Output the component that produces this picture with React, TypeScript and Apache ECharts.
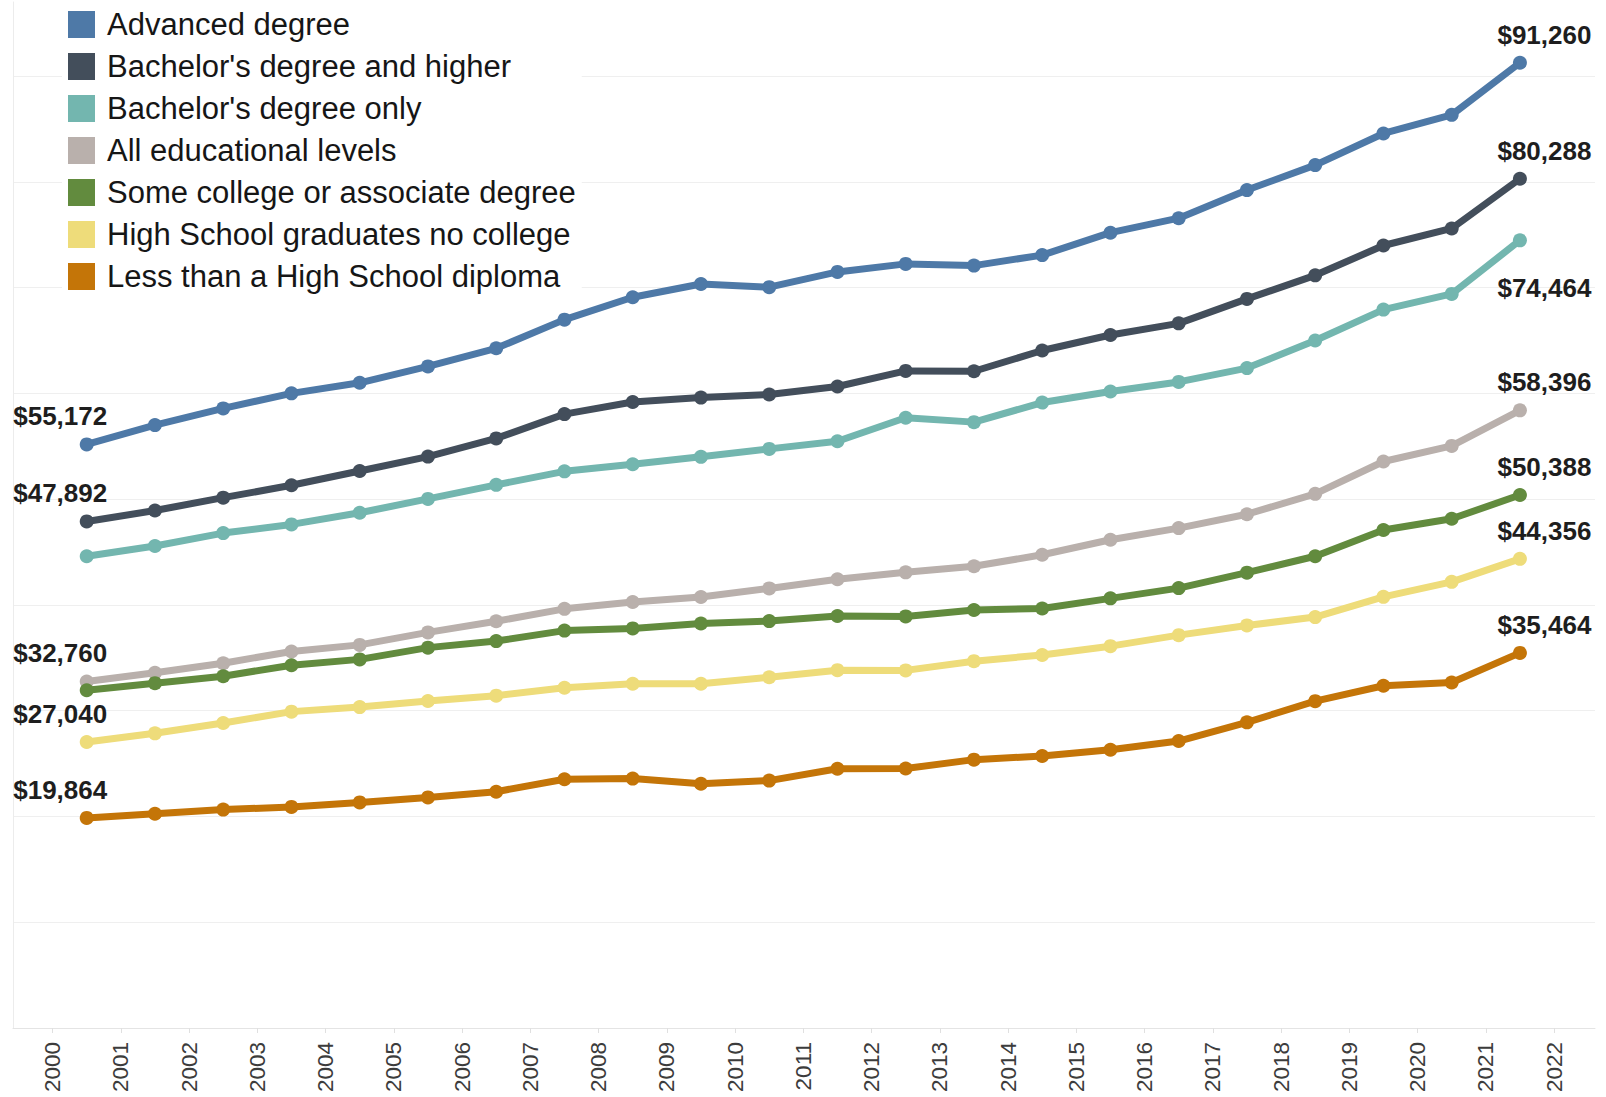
import React, { useEffect, useRef } from "react";
import * as echarts from "echarts";

// Annual median earnings by educational attainment (USD)
const years = [
  2000, 2001, 2002, 2003, 2004, 2005, 2006, 2007, 2008, 2009, 2010,
  2011, 2012, 2013, 2014, 2015, 2016, 2017, 2018, 2019, 2020, 2021,
];
const tickYears = [
  2000, 2001, 2002, 2003, 2004, 2005, 2006, 2007, 2008, 2009, 2010, 2011,
  2012, 2013, 2014, 2015, 2016, 2017, 2018, 2019, 2020, 2021, 2022,
];

const advancedDegree = [
  55172, 57000, 58580, 60000, 61000, 62550, 64260, 66970, 69090, 70340, 70040,
  71480, 72240, 72080, 73070, 75190, 76560, 79220, 81580, 84570, 86330, 91260,
];
const bachelorsAndHigher = [
  47892, 48920, 50140, 51310, 52660, 54020, 55740, 58040, 59180, 59600, 59890,
  60650, 62120, 62090, 64050, 65520, 66620, 68930, 71160, 73980, 75590, 80288,
];
const bachelorsOnly = [
  44600, 45570, 46790, 47610, 48710, 50020, 51350, 52630, 53300, 54000, 54750,
  55470, 57700, 57280, 59130, 60180, 61080, 62390, 65000, 67920, 69400, 74464,
];
const allLevels = [
  32760, 33590, 34490, 35600, 36220, 37400, 38450, 39630, 40280, 40750, 41560,
  42430, 43080, 43650, 44740, 46160, 47260, 48570, 50500, 53560, 55030, 58396,
];
const someCollege = [
  31930, 32600, 33260, 34300, 34850, 35960, 36580, 37570, 37780, 38240, 38470,
  38950, 38910, 39520, 39660, 40620, 41590, 43050, 44600, 47080, 48140, 50388,
];
const highSchool = [
  27040, 27860, 28830, 29910, 30340, 30920, 31420, 32170, 32550, 32550, 33160,
  33830, 33810, 34680, 35270, 36100, 37140, 38060, 38850, 40760, 42180, 44356,
];
const lessThanHighSchool = [
  19864, 20250, 20650, 20900, 21330, 21800, 22340, 23520, 23580, 23090, 23390,
  24510, 24530, 25370, 25710, 26310, 27130, 28900, 30900, 32360, 32660, 35464,
];

const seriesDefs = [
  { name: "Advanced degree", color: "#4e79a7", values: advancedDegree, firstLabel: true, lastBelow: false },
  { name: "Bachelor's degree and higher", color: "#434e5b", values: bachelorsAndHigher, firstLabel: true, lastBelow: false },
  { name: "Bachelor's degree only", color: "#73b6af", values: bachelorsOnly, firstLabel: false, lastBelow: true },
  { name: "All educational levels", color: "#b9b0ac", values: allLevels, firstLabel: true, lastBelow: false },
  { name: "Some college or associate degree", color: "#628b3e", values: someCollege, firstLabel: false, lastBelow: false },
  { name: "High School graduates no college", color: "#eedc7a", values: highSchool, firstLabel: true, lastBelow: false },
  { name: "Less than a High School diploma", color: "#c47508", values: lessThanHighSchool, firstLabel: true, lastBelow: false },
];

const FONT = "Arial, 'Liberation Sans', sans-serif";

const money = (v: number) => "$" + v.toLocaleString("en-US");

export default function App() {
  const ref = useRef<HTMLDivElement>(null);

  useEffect(() => {
    if (!ref.current) return;
    const chart = echarts.init(ref.current, undefined, { renderer: "svg" });

    const valueLabel = {
      show: true,
      position: "inside",
      fontFamily: FONT,
      fontWeight: "bold",
      fontSize: 26,
      color: "#1e1e1e",
      formatter: (p: any) => money(p.value[1]),
    };

    const series = seriesDefs.map((s) => {
      const last = s.values.length - 1;
      return {
        type: "line",
        name: s.name,
        color: s.color,
        symbol: "circle",
        symbolSize: 14,
        showSymbol: true,
        lineStyle: { width: 7, color: s.color },
        itemStyle: { color: s.color },
        emphasis: { disabled: true },
        data: s.values.map((v, i) => {
          let label: any = { show: false };
          if (i === 0 && s.firstLabel) {
            label = { ...valueLabel, offset: [-26.5, -28] };
          } else if (i === last) {
            label = { ...valueLabel, offset: [24.5, s.lastBelow ? 48 : -28] };
          }
          // annual figures sit at mid-year between the year ticks
          return { value: [years[i] + 0.5, v], label };
        }),
      };
    });

    chart.setOption({
      animation: false,
      backgroundColor: "#ffffff",
      grid: { left: 13, right: 11, top: 2, bottom: 69, containLabel: false },
      legend: {
        orient: "vertical",
        left: 62,
        top: 0,
        padding: [9, 6, 8, 6],
        backgroundColor: "#ffffff",
        icon: "rect",
        itemWidth: 27,
        itemHeight: 27,
        itemGap: 11,
        selectedMode: false,
        textStyle: {
          fontFamily: FONT,
          fontSize: 31,
          lineHeight: 31,
          color: "#161616",
          padding: [0, 0, 0, 7],
        },
        data: seriesDefs.map((s) => s.name),
      },
      xAxis: {
        type: "value",
        min: 1999.42,
        max: 2022.6,
        axisLine: { show: true, lineStyle: { color: "#e4e4e4", width: 1 } },
        axisTick: {
          show: true,
          length: 5,
          lineStyle: { color: "#e0e0e0" },
          customValues: tickYears,
        },
        axisLabel: {
          show: true,
          rotate: 90,
          margin: 14,
          fontFamily: FONT,
          fontSize: 22.5,
          color: "#3c3c3c",
          customValues: tickYears,
          formatter: (v: number) => String(Math.round(v)),
        },
        splitLine: { show: false },
      },
      yAxis: {
        type: "value",
        min: 0,
        max: 97000,
        interval: 10000,
        axisLine: { show: true, lineStyle: { color: "#ececec", width: 1 } },
        axisTick: { show: false },
        axisLabel: { show: false },
        splitLine: {
          show: true,
          showMaxLine: false,
          lineStyle: { color: "#efefef", width: 1.2 },
        },
      },
      series,
    });

    return () => chart.dispose();
  }, []);

  return (
    <div
      ref={ref}
      style={{ position: "absolute", left: 0, top: 0, width: 1606, height: 1097 }}
    />
  );
}
